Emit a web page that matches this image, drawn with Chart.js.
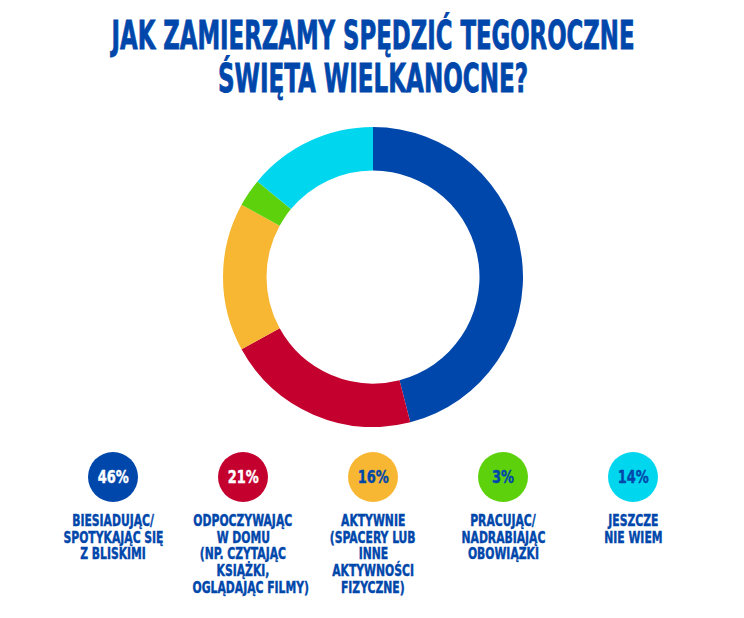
<!DOCTYPE html>
<html>
<head>
<meta charset="utf-8">
<script src="https://cdn.jsdelivr.net/npm/chart.js@4"></script>
<style>
  html, body { margin:0; padding:0; background:#ffffff; }
  body { width:744px; height:618px; position:relative; overflow:hidden;
         font-family:"DejaVu Sans Condensed","Liberation Sans Narrow","Liberation Sans",sans-serif; font-weight:bold; color:#0047AB; }
  .tline { position:absolute; left:373px; width:0; font-size:39px; line-height:43px; white-space:nowrap; -webkit-text-stroke:0.8px #0047AB; }
  .tline span { position:absolute; left:0; top:0; display:inline-block; white-space:nowrap; }
  #chartBox { position:absolute; left:223px; top:127px; width:300px; height:300px; }
  .item { position:absolute; top:452px; width:130px; text-align:center; }
  .dot { width:50px; height:50px; border-radius:25px; margin:0 auto; display:flex; align-items:center; justify-content:center; font-size:17px; }
  .dot span { display:inline-block; transform:scaleX(0.85); -webkit-text-stroke:0.4px currentColor; }
  .lbl { margin-top:11px; font-size:15px; line-height:16.7px; }
  .lbl span { display:inline-block; white-space:nowrap; transform:scaleX(0.8); -webkit-text-stroke:0.4px #0047AB; }
</style>
</head>
<body>
<div id="title"></div>
<div id="chartBox"><canvas id="c" width="300" height="300"></canvas></div>
<div id="legend"></div>
<script>
const titleLines = ["JAK ZAMIERZAMY SPĘDZIĆ TEGOROCZNE", "ŚWIĘTA WIELKANOCNE?"];
const categories = [
  ["BIESIADUJĄC/", "SPOTYKAJĄC SIĘ", "Z BLISKIMI"],
  ["ODPOCZYWAJĄC", "W DOMU", "(NP. CZYTAJĄC", "KSIĄŻKI,", "OGLĄDAJĄC FILMY)"],
  ["AKTYWNIE", "(SPACERY LUB", "INNE", "AKTYWNOŚCI", "FIZYCZNE)"],
  ["PRACUJĄC/", "NADRABIAJĄC", "OBOWIĄZKI"],
  ["JESZCZE", "NIE WIEM"]
];
const values = [46, 21, 16, 3, 14];
const colors = ["#0047AB", "#C4002F", "#F7B733", "#5ED10D", "#00D7EF"];
const pctTextColors = ["#ffffff", "#ffffff", "#0047AB", "#0047AB", "#0047AB"];

// Title
const titleEl = document.getElementById('title');
const titleTargets = [523, 310];
const titleTops = [14, 57];
titleLines.forEach((t, i) => {
  const d = document.createElement('div');
  d.className = 'tline';
  d.style.top = titleTops[i] + 'px';
  const s = document.createElement('span');
  s.textContent = t;
  d.appendChild(s);
  titleEl.appendChild(d);
  const w = s.getBoundingClientRect().width;
  s.style.transformOrigin = '0 0';
  s.style.transform = 'translateX(' + (-titleTargets[i] / 2) + 'px) scaleX(' + (titleTargets[i] / w) + ')';
});

// Legend
const legend = document.getElementById('legend');
categories.forEach((lines, i) => {
  const item = document.createElement('div');
  item.className = 'item';
  item.style.left = (48 + i * 130) + 'px';
  const dot = document.createElement('div');
  dot.className = 'dot';
  dot.style.background = colors[i];
  dot.style.color = pctTextColors[i];
  dot.innerHTML = '<span>' + values[i] + '%</span>';
  item.appendChild(dot);
  const lbl = document.createElement('div');
  lbl.className = 'lbl';
  lbl.innerHTML = lines.map(l => '<span>' + l + '</span>').join('<br>');
  item.appendChild(lbl);
  legend.appendChild(item);
});

// Doughnut
new Chart(document.getElementById('c'), {
  type: 'doughnut',
  data: {
    labels: categories.map(l => l.join(' ')),
    datasets: [{ data: values, backgroundColor: colors, borderWidth: 0 }]
  },
  options: {
    responsive: false,
    animation: false,
    cutout: '71%',
    layout: { padding: 0 },
    plugins: { legend: { display: false }, tooltip: { enabled: false }, title: { display: false } }
  }
});
</script>
</body>
</html>
